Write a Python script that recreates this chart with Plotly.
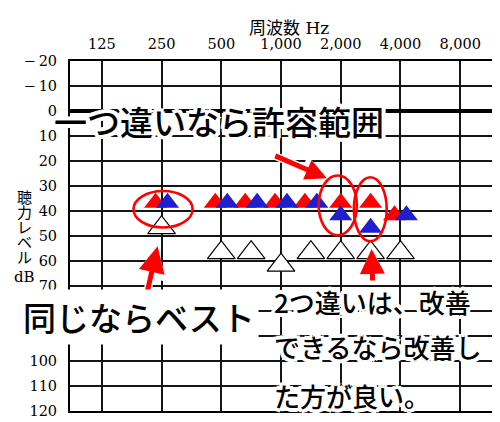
import numpy as np
import plotly.graph_objects as go

# ---------------- data ----------------
octave_freqs = [125, 250, 500, 1000, 2000, 4000, 8000]
octave_labels = ["125", "250", "500", "1,000", "2,000", "4,000", "8,000"]
db_ticks = list(range(-20, 121, 10))
db_labels = ["\u2212\u200920", "\u2212\u200910"] + [str(v) for v in range(0, 121, 10)]

freqs = [250, 500, 750, 1000, 1500, 2000, 3000, 4000]
red_db = [40, 40, 40, 40, 40, 40, 40, 45]
blue_db = [40, 40, 40, 40, 40, 45, 50, 45]
white_db = [50, 60, 60, 65, 60, 60, 60, 60]

# ---------------- layout constants ----------------
W, H = 500, 422
L, R, T, B = 62, 11, 53, 13
PW, PH = W - L - R, H - T - B
X_RANGE = [-0.533, 6.583]
Y_RANGE = [120, -20]
PX_PER_DB = PH / 140.0
LIFT = 8.5 / PX_PER_DB        # triangles sit on their threshold line
PAIR_DX = 0.1                 # side-by-side offset when red == blue

RED = "#ff0000"
BLUE = "#1f1fcf"
JP = "Noto Sans CJK JP"
SERIF = "DejaVu Serif, Noto Sans CJK JP"


def paper(px, py):
    return (px - L) / PW, (T + PH - py) / PH


pos = np.interp(freqs, octave_freqs, np.arange(len(octave_freqs)))
red = np.array(red_db, dtype=float)
blue = np.array(blue_db, dtype=float)
same = (red == blue).astype(float)

fig = go.Figure()
fig.add_trace(go.Scatter(
    x=pos, y=np.array(white_db) - LIFT, mode="markers",
    marker=dict(symbol="triangle-up", size=24, color="white",
                line=dict(color="black", width=1.2)),
    hoverinfo="skip", showlegend=False))
fig.add_trace(go.Scatter(
    x=pos - PAIR_DX * same, y=red - LIFT, mode="markers",
    marker=dict(symbol="triangle-up", size=20, color=RED, line=dict(width=0)),
    hoverinfo="skip", showlegend=False))
fig.add_trace(go.Scatter(
    x=pos + PAIR_DX * same, y=blue - LIFT, mode="markers",
    marker=dict(symbol="triangle-up", size=20, color=BLUE, line=dict(width=0)),
    hoverinfo="skip", showlegend=False))

# red ellipses (axis units: octave index, dB)
ellipses = [(0.53, 1.52, 32.0, 46.6), (3.63, 4.27, 25.8, 49.7), (4.22, 4.77, 26.5, 52.1)]
for x0, x1, y0, y1 in ellipses:
    fig.add_shape(type="circle", xref="x", yref="y", x0=x0, x1=x1, y0=y0, y1=y1,
                  line=dict(color=RED, width=2.6), layer="above")

halo = ("white 4px 0px 0px, white -4px 0px 0px, white 0px 4px 0px, white 0px -4px 0px, "
        "white 3px 3px 0px, white -3px -3px 0px, white 3px -3px 0px, white -3px 3px 0px")

ann = []
# arrows (white outline first, then the red arrow)
arrows = [(3.767, 26.9, -53, -23, 0.85),
          (0.933, 54.1, -12, 53, 1.05),
          (4.517, 55.2, 1, 33, 1.0)]
for (tx, ty, ax, ay, asz) in arrows:
    ann.append(dict(x=tx, y=ty, xref="x", yref="y", text="", showarrow=True,
                    arrowhead=2, arrowsize=asz * 0.78, arrowwidth=8, arrowcolor="white",
                    ax=ax, ay=ay, standoff=0))
for (tx, ty, ax, ay, asz) in arrows:
    ann.append(dict(x=tx, y=ty, xref="x", yref="y", text="", showarrow=True,
                    arrowhead=2, arrowsize=asz, arrowwidth=5, arrowcolor=RED,
                    ax=ax, ay=ay, standoff=0))

# big texts (py = visual centre of the glyphs)
for txt, px, py, sz, bg in [("一つ違いなら許容範囲", 44, 123, 33, None),
                            ("同じならベスト", 11, 322, 33, "white"),
                            ("2つ違いは、改善", 265, 304, 26, None),
                            ("できるなら改善し", 265, 350, 26, None),
                            ("た方が良い。", 265, 400, 26, None)]:
    x, y = paper(px, py - 0.26 * sz)
    a = dict(x=x, y=y, xref="paper", yref="paper", text=txt, showarrow=False,
             xanchor="left", yanchor="middle",
             font=dict(family=JP, size=sz, color="black", weight=500, shadow=halo))
    if bg:
        a.update(bgcolor=bg, borderpad=3)
    ann.append(a)

# axis title (top)
x, y = paper(282, 19)
ann.append(dict(x=x, y=y, xref="paper", yref="paper", text="周波数 Hz", showarrow=False,
                xanchor="center", yanchor="middle",
                font=dict(family=SERIF, size=17, color="black")))

# vertical y label
ylab = ["聴", "力", "レ", "ベ", "ル", "dB"]
ycent = [192, 207.5, 222.5, 238.5, 253.5, 272.5]
for ch, py in zip(ylab, ycent):
    x, y = paper(16, py)
    ann.append(dict(x=x, y=y, xref="paper", yref="paper", text=ch, showarrow=False,
                    xanchor="center", yanchor="middle",
                    font=dict(family=SERIF, size=15, color="black")))

fig.update_layout(
    width=W, height=H,
    margin=dict(l=L, r=R, t=T, b=B, pad=0),
    paper_bgcolor="white", plot_bgcolor="white",
    annotations=ann,
    xaxis=dict(range=X_RANGE, side="top", tickvals=list(range(len(octave_freqs))),
               ticktext=octave_labels, showgrid=True, gridcolor="#151515", gridwidth=1.7,
               zeroline=False, showline=True, mirror=True, linecolor="black", linewidth=2,
               ticks="", tickfont=dict(family=SERIF, size=14.5, color="black"),
               ticklabelstandoff=4, fixedrange=True),
    yaxis=dict(range=Y_RANGE, tickvals=db_ticks, ticktext=db_labels,
               showgrid=True, gridcolor="#151515", gridwidth=1.7,
               zeroline=True, zerolinecolor="black", zerolinewidth=3.5,
               showline=True, mirror=True, linecolor="black", linewidth=2,
               ticks="", tickfont=dict(family=SERIF, size=14.5, color="black"),
               ticklabelstandoff=8, fixedrange=True),
)

fig.write_html("out.html")
